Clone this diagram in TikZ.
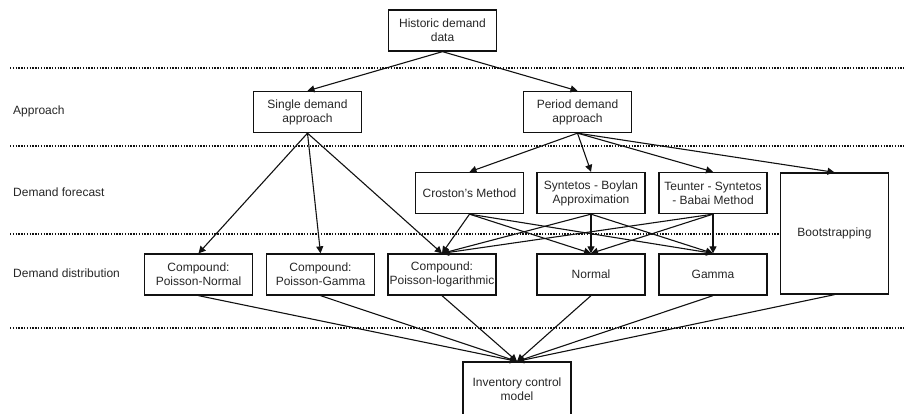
\documentclass[tikz,border=0pt]{standalone}
\usepackage{fontspec}
\setmainfont{Liberation Sans}
\usetikzlibrary{arrows.meta}
\definecolor{txt}{HTML}{262626}
\definecolor{ln}{HTML}{111111}
\begin{document}
\begin{tikzpicture}[x=1pt,y=-1pt,
  font=\fontsize{12}{14}\selectfont,
  box/.style={draw=ln, line width=1.3pt, text=txt, align=center, inner sep=1pt,
    minimum width=108pt, minimum height=41pt},
  arr/.style={draw=ln, line width=1.1pt, -{Triangle[length=7pt,width=7pt]}},
  sep/.style={draw=ln, line width=1.6pt, dash pattern=on 1.4pt off 1.4pt},
  lbl/.style={anchor=west, text=txt, inner sep=0pt}]
\useasboundingbox (0,0) rectangle (904,414);
\clip (0,0) rectangle (904,414);
% separators
\draw[sep] (10,68) -- (904,68);
\draw[sep] (10,146) -- (904,146);
\draw[sep] (10,234) -- (780,234);
\draw[sep] (10,328) -- (904,328);
% row labels
\node[lbl] (la) at (13,111) {Approach};
\node[lbl] (lf) at (13,192) {Demand forecast};
\node[lbl] (ld) at (13,273) {Demand distribution};
% boxes
\node[box] (hist) at (442.5,30.5) {Historic demand\\data};
\node[box] (single) at (307.5,112) {Single demand\\approach};
\node[box] (period) at (577.5,112) {Period demand\\approach};
\node[box] (croston) at (469.5,193) {Croston{\char"0027}s Method};
\node[box] (syn) at (591,193) {Syntetos - Boylan\\Approximation};
\node[box] (teu) at (713,193) {Teunter - Syntetos\\- Babai Method};
\node[box, minimum height=121pt] (boot) at (834.5,233.5) {Bootstrapping};
\node[box] (pn) at (198.5,274.5) {Compound:\\Poisson-Normal};
\node[box] (pg) at (320.5,274.5) {Compound:\\Poisson-Gamma};
\node[box] (pl) at (442,274.5) {Compound:\\Poisson-logarithmic};
\node[box] (nor) at (591,274.5) {Normal};
\node[box] (gam) at (713,274.5) {Gamma};
\node[box, minimum height=54pt] (inv) at (517,389) {Inventory control\\model};
% connectors
\draw[arr] (hist.south) -- (single.north);
\draw[arr] (hist.south) -- (period.north);
\foreach \t in {pn,pg,pl} \draw[arr] (single.south) -- (\t.north);
\foreach \t in {croston,syn,teu,boot} \draw[arr] (period.south) -- (\t.north);
\foreach \s in {croston,syn,teu}
  \foreach \t in {pl,nor,gam} \draw[arr] (\s.south) -- (\t.north);
\foreach \s in {pn,pg,pl,nor,gam,boot} \draw[arr] (\s.south) -- (inv.north);
\end{tikzpicture}
\end{document}
